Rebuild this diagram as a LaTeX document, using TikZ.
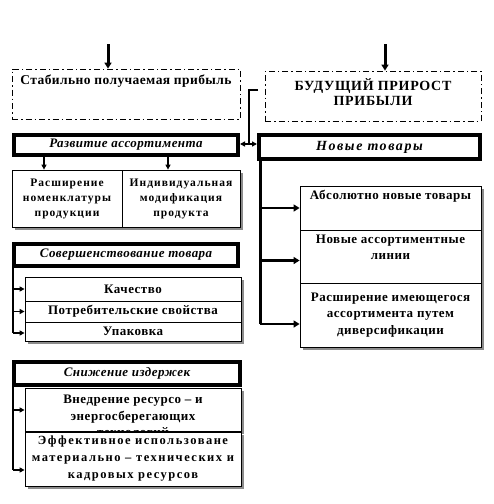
\documentclass[tikz,border=0pt]{standalone}
\usepackage{fontspec}
\setmainfont{Liberation Serif}
\usetikzlibrary{arrows.meta,shadows}
\newcommand{\toptext}{\fontsize{13.5}{15}\selectfont\bfseries\addfontfeatures{LetterSpace=3}}
\newcommand{\capstext}{\fontsize{14}{15}\selectfont\bfseries\addfontfeatures{LetterSpace=5}}
\newcommand{\headtext}{\fontsize{13}{14}\selectfont\bfseries\itshape\addfontfeatures{LetterSpace=3.5}}
\newcommand{\itemtext}{\fontsize{13}{16.5}\selectfont\bfseries\addfontfeatures{LetterSpace=4}}
\newcommand{\smalltext}{\fontsize{11.5}{15}\selectfont\bfseries\addfontfeatures{LetterSpace=9}}
\newcommand{\widetext}{\fontsize{12.5}{17}\selectfont\bfseries\addfontfeatures{LetterSpace=12}}

\begin{document}
\begin{tikzpicture}[x=1pt,y=-1pt,
  dashbox/.style={draw,line width=0.8pt,dash pattern=on 6pt off 3pt on 1.5pt off 3pt,align=center,font=\toptext},
  headbox/.style={draw,line width=4pt,fill=white,inner sep=0pt,font=\headtext},
  itembox/.style={draw,line width=0.8pt,fill=white,inner sep=0pt,align=center,font=\itemtext,
    drop shadow={shadow xshift=2.5pt,shadow yshift=-2.5pt,fill=black!45,opacity=1}},
  arr/.style={line width=2.5pt,-{Triangle[length=6pt,width=7pt]}},
  smallarr/.style={line width=1.5pt,-{Triangle[length=5pt,width=5pt]}},
  trunk/.style={line width=2.5pt}]
\useasboundingbox (0,0) rectangle (494,504);

% top blocks
\node[dashbox,minimum width=228,minimum height=50,inner ysep=5,text height=10,text depth=30] (stable) at (126,94) {Стабильно получаемая прибыль};
\node[dashbox,minimum width=216,minimum height=50] (future) at (373,96) {};
\node[font=\capstext,align=center,inner sep=0pt] (futuretxt) at (373,92) {БУДУЩИЙ ПРИРОСТ\\ПРИБЫЛИ};
\coordinate (inL) at (108,44);
\coordinate (inR) at (385,44);
\draw[arr,line width=3pt] (inL) -- (stable.north -| inL);
\draw[arr,line width=3pt] (inR) -- (future.north -| inR);

% headings
\node[headbox,minimum width=224,minimum height=20] (razv) at (126,144.5) {Развитие ассортимента};
\node[headbox,font={\fontsize{14}{14}\selectfont\bfseries\itshape\addfontfeatures{LetterSpace=11}},minimum width=221,minimum height=24] (novye) at (369.5,147) {Новые товары};
\node[headbox,minimum width=224,minimum height=22] (sov) at (126,255) {Совершенствование товара};
\node[headbox,minimum width=226,minimum height=23] (snizh) at (127,373.5) {Снижение издержек};

% link between the two directions
\coordinate (fromF) at (258,90);
\coordinate (split) at (249,144);
\draw[trunk] (fromF) -| (split);
\draw[smallarr,line width=2pt] (split) -- (split -| razv.east);
\draw[smallarr,line width=2pt] (split) -- (split -| novye.west);

% assortment
\node[itembox,font=\smalltext,minimum width=110,minimum height=57] (nomen) at (67,198.5) {Расширение\\номенклатуры\\продукции};
\node[itembox,font=\smalltext,minimum width=118,minimum height=57] (modif) at (181,198.5) {Индивидуальная\\модификация\\продукта};
\draw[smallarr] ([xshift=-23]nomen.north |- razv.south) -- ([xshift=-23]nomen.north);
\draw[smallarr] ([xshift=-13]modif.north |- razv.south) -- ([xshift=-13]modif.north);

% new goods
\node[itembox,minimum width=181,minimum height=44,text height=10,text depth=28] (absol) at (390.5,208) {Абсолютно новые товары};
\node[itembox,minimum width=181,minimum height=53] (lines) at (390.5,256.5) {Новые ассортиментные\\линии\\[2pt]};
\node[itembox,minimum width=181,minimum height=64] (divers) at (390.5,315) {Расширение имеющегося\\ассортимента путем\\диверсификации};
\coordinate (rtop) at (260,159);
\coordinate (rbot) at (260,324);
\draw[trunk,line width=3pt] (rtop) -- (rbot);
\draw[arr] (rtop |- absol.west) -- (absol.west);
\draw[arr] ([yshift=-4]lines.west -| rtop) -- ([yshift=-4]lines.west);
\draw[arr] (rbot) -- (rbot -| divers.west);

% improvement
\node[itembox,minimum width=216,minimum height=24] (kach) at (133,289) {Качество};
\node[itembox,minimum width=216,minimum height=21] (potreb) at (133,311.5) {Потребительские свойства};
\node[itembox,minimum width=216,minimum height=19] (upak) at (133,331.5) {Упаковка};
\coordinate (ltop) at (13,266);
\coordinate (lbot) at (13,333);
\draw[trunk,line width=2pt] (ltop) -- (lbot);
\draw[smallarr] (ltop |- kach.west) -- (kach.west);
\draw[smallarr] (ltop |- potreb.west) -- (potreb.west);
\draw[smallarr] (lbot) -- (lbot -| upak.west);

% costs
\node[itembox,minimum width=216,minimum height=43] (vnedr) at (133,410) {};
\node[align=center,font=\itemtext,anchor=north,inner sep=0pt] (vnedrtxt) at (133,395) {Внедрение ресурсо -- и\\энергосберегающих\\технологий};
\node[itembox,font=\widetext,minimum width=216,minimum height=54] (effekt) at (133,459) {Эффективное использоване\\материально -- технических и\\кадровых ресурсов};
\coordinate (ctop) at (13,385);
\coordinate (cbot) at (13,470);
\draw[trunk,line width=2pt] (ctop) -- (cbot);
\draw[smallarr] (ctop |- vnedr.west) -- (vnedr.west);
\draw[smallarr] (cbot) -- (cbot -| effekt.west);
\end{tikzpicture}
\end{document}
